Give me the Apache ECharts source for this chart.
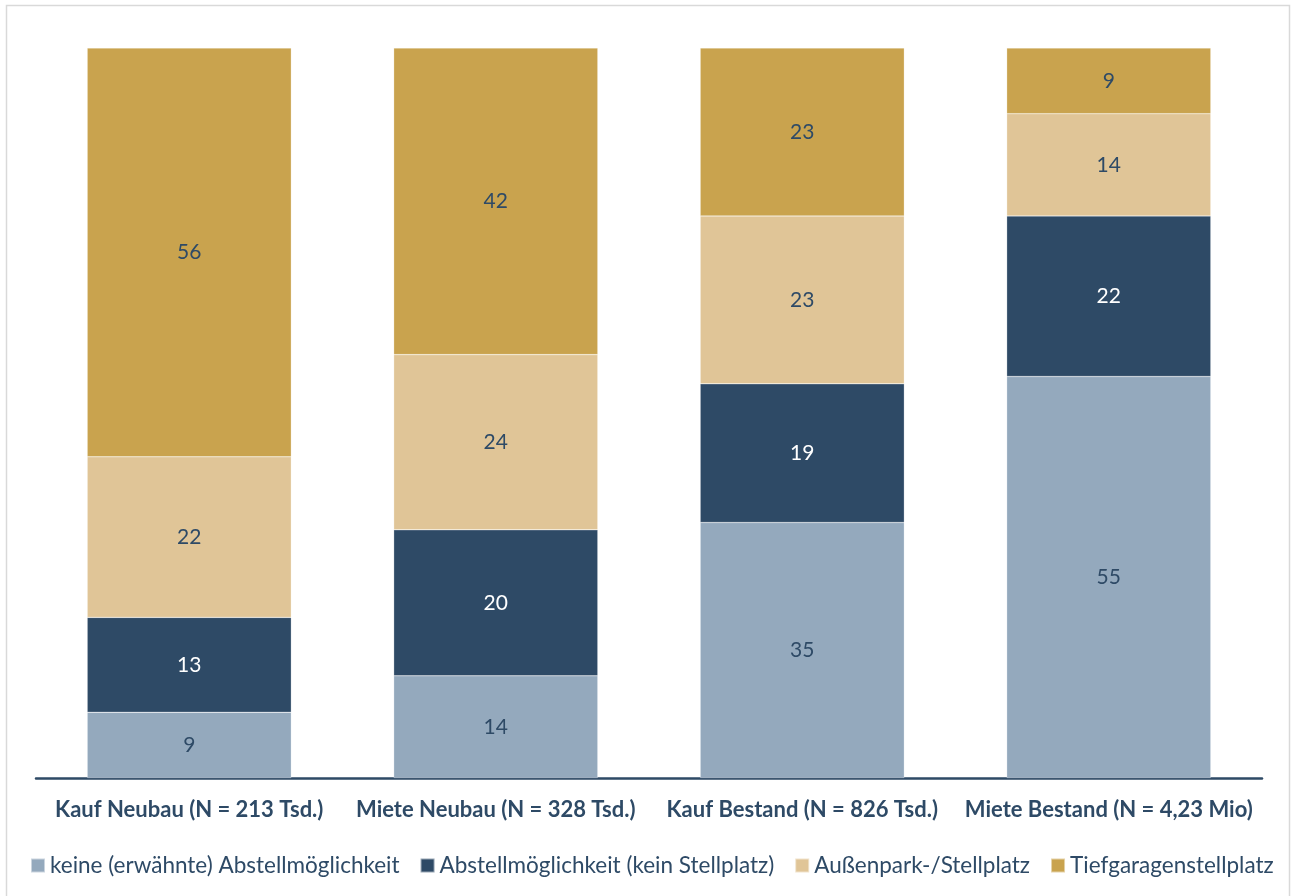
<!DOCTYPE html>
<html><head><meta charset="utf-8">
<script src="https://cdn.jsdelivr.net/npm/echarts@6/dist/echarts.min.js"></script>
<style>html,body{margin:0;padding:0;background:#fff}#c{width:1292px;height:896px}</style>
</head><body><div id="c"></div>
<script>
const categories = ['Kauf Neubau (N = 213 Tsd.)', 'Miete Neubau (N = 328 Tsd.)', 'Kauf Bestand (N = 826 Tsd.)', 'Miete Bestand (N = 4,23 Mio)'];
const seriesNames = ['keine (erwähnte) Abstellmöglichkeit', 'Abstellmöglichkeit (kein Stellplatz)', 'Außenpark-/Stellplatz', 'Tiefgaragenstellplatz'];
const keine = [9, 14, 35, 55];
const abstell = [13, 20, 19, 22];
const aussen = [22, 24, 23, 14];
const tiefgarage = [56, 42, 23, 9];
const colors = ['#94a9bd', '#2e4a66', '#e0c597', '#c9a34e'];
const labelColors = ['#2e4a66', '#ffffff', '#2e4a66', '#2e4a66'];
const values = [keine, abstell, aussen, tiefgarage];
const FONT = 'Lato';

const chart = echarts.init(document.getElementById('c'), null, {renderer: 'canvas'});
chart.setOption({
  animation: false,
  textStyle: {fontFamily: FONT},
  graphic: [{type: 'rect', shape: {x: 6.5, y: 5.5, width: 1283, height: 900}, style: {fill: 'none', stroke: '#d9d9d9', lineWidth: 1.5}, silent: true}],
  grid: {left: 36, right: 30, top: 48, bottom: 118, containLabel: false},
  xAxis: {
    type: 'category', data: categories,
    axisLine: {lineStyle: {color: '#2e4a66', width: 2.5}},
    axisTick: {show: false},
    axisLabel: {color: '#2e4a66', fontWeight: 'bold', fontSize: 22, margin: 21, fontFamily: FONT, interval: 0}
  },
  yAxis: {type: 'value', min: 0, max: 100, show: false},
  legend: {
    data: seriesNames, left: 30, top: 854, padding: 0, itemWidth: 14, itemHeight: 14, itemGap: 20, icon: 'rect',
    textStyle: {color: '#2e4a66', fontSize: 22.5, fontFamily: FONT, padding: [0, 0, 0, 0]}
  },
  series: seriesNames.map((n, i) => ({
    name: n, type: 'bar', stack: 'total', barWidth: '66.6%', data: values[i],
    itemStyle: {color: colors[i], borderColor: 'rgba(255,255,255,0.5)', borderWidth: 0.5},
    label: {show: true, position: 'inside', color: labelColors[i], fontSize: 21, fontFamily: FONT}
  }))
});
</script></body></html>
